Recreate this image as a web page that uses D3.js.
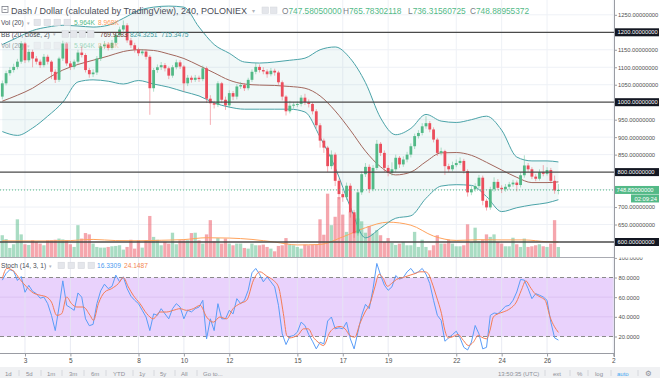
<!DOCTYPE html>
<html lang="en">
<head>
  <meta charset="UTF-8">
  <title>Dash / Dollar, 240, POLONIEX</title>
  <style>
    body { margin: 0; background: #fff; }
    svg { display: block; font-family: "Liberation Sans", Arial, sans-serif; }
  </style>
</head>
<body>
  <div id="chart"></div>
  <script src="https://d3js.org/d3.v7.min.js"></script>
  <script>
    // 4h candles: index 0 = Jan 2 00:00 UTC, last = Jan 26 12:00 UTC (live candle)
    const opens = [1016,1054,1083,1092,1101,1116,1168,1120,1144,1125,
      1116,1106,1130,1116,1087,1064,1125,1168,1111,1101,
      1116,1142,1135,1092,1080,1085,1125,1160,1165,1155,
      1170,1192,1208,1220,1177,1163,1150,1140,1145,1130,
      1040,1092,1100,1106,1097,1076,1100,1114,1102,1054,
      1070,1064,1070,1066,1097,1010,997,993,1054,1007,
      991,1026,1016,1045,1049,1040,1064,1087,1101,1092,
      1088,1080,1090,1085,1057,1016,974,990,993,995,
      1013,1000,995,974,934,890,870,817,850,775,
      737,728,761,685,625,742,794,815,751,812,
      881,855,812,798,808,841,822,836,850,874,
      903,912,931,940,922,893,855,860,817,808,
      820,826,832,803,742,751,760,784,718,699,
      751,772,755,751,758,765,770,763,791,819,
      808,787,781,800,795,806,775,747.58];
    const highs = [1062,1090,1100,1110,1124,1175,1172,1152,1150,1132,
      1122,1138,1136,1120,1094,1130,1176,1172,1118,1122,
      1150,1160,1140,1098,1094,1132,1168,1175,1172,1178,
      1200,1216,1234,1226,1184,1170,1156,1152,1150,1135,
      1098,1108,1115,1112,1102,1106,1122,1120,1106,1078,
      1076,1078,1076,1105,1102,1020,1004,1060,1058,1016,
      1034,1032,1052,1058,1055,1070,1094,1112,1108,1100,
      1094,1098,1096,1090,1062,1020,1004,1000,1002,1020,
      1024,1008,1000,980,940,896,875,862,856,782,
      745,770,768,692,750,802,826,822,820,892,
      886,862,820,828,850,846,845,858,882,910,
      920,940,960,946,928,898,870,864,824,830,
      836,842,838,808,760,768,792,790,724,758,
      785,780,762,766,772,778,776,800,848,826,
      814,794,808,820,814,812,790,765.78];
    const lows = [1008,1048,1076,1085,1094,1110,1112,1114,1100,1108,
      1098,1100,1108,1066,1055,1058,1118,1104,1092,1094,
      1110,1128,1085,1070,1072,1078,1118,1152,1148,1150,
      1164,1186,1202,1170,1155,1142,1132,1134,1122,964,
      1030,1084,1092,1088,1066,1070,1094,1095,1030,1046,
      1056,1058,1058,1060,998,935,982,986,998,978,
      984,1006,1008,1038,1032,1034,1058,1080,1085,1080,
      1070,1074,1076,1050,1005,962,968,982,986,988,
      992,985,965,925,870,855,800,808,760,722,
      715,720,670,612,618,735,786,740,745,806,
      846,800,788,790,800,812,815,828,842,866,
      896,905,924,914,885,846,848,792,800,802,
      814,820,796,730,734,744,754,705,690,692,
      744,748,740,744,750,758,745,756,784,800,
      780,774,776,788,790,768,738,736.32];
    const closes = [1054,1083,1092,1101,1116,1168,1120,1144,1125,1116,
      1106,1130,1116,1087,1064,1125,1168,1111,1101,1116,
      1142,1135,1092,1080,1085,1125,1160,1165,1155,1170,
      1192,1208,1220,1177,1163,1150,1140,1145,1130,1040,
      1092,1100,1106,1097,1076,1100,1114,1102,1054,1070,
      1064,1070,1066,1097,1010,997,993,1054,1007,991,
      1026,1016,1045,1049,1040,1064,1087,1101,1092,1088,
      1080,1090,1085,1057,1016,974,990,993,995,1013,
      1000,995,974,934,890,870,817,850,775,737,
      728,761,685,625,742,794,815,751,812,881,
      855,812,798,808,841,822,836,850,874,903,
      912,931,940,922,893,855,860,817,808,820,
      826,832,803,742,751,760,784,718,699,751,
      772,755,751,758,765,770,763,791,819,808,
      787,781,800,795,806,775,747.58,748.89];
    // volume in thousands
    const volumes = [13,10.7,5.4,7.6,22.5,13.5,7.6,7.2,10,9,
      8,7,10,10,10.3,11,10.5,10,7.6,6,
      19,11,14.3,13.5,8,6,5.6,5.6,6,6.4,
      6.6,7,4.4,6,10.3,5,10,5.6,10,24.5,
      12,10.3,7,9,8,14.5,7.6,10,10,10,
      14.3,14.5,10,8,13.5,22,9.4,11.3,8,11,
      8,7,8,8,5.4,5,8,7,7,7.4,
      6,5,3.4,6.6,7,11.3,7.4,7,6,5,
      7.4,7,7.4,7.4,22.5,13.3,37.8,19,24,35.8,
      25.3,15,27,25.3,23,21.3,14.5,18.5,14,16,
      13,9,11.3,8.4,7.2,8,9,7,7,15,
      6,10.3,6,4,7,13,8,8,10.3,8,
      6.4,6.4,7,19.5,9,17.5,9.5,10.3,13.5,12,
      13.5,9,8,6.4,6.4,11.5,7.6,6,11,6,
      6.4,7,7.6,6.4,6,8,22,5.964];
    const volMaIdx = [0,6,12,18,24,30,36,42,48,54,60,66,72,78,84,90,96,102,108,114,120,126,132,138,144,147];
    const volMa = [9.7,9.6,9.6,9.8,10.5,9.8,9.7,10.0,10.4,11.5,11.3,10.5,8.9,7.2,7.5,12.0,17.5,20.8,19,12.5,9.9,10.3,10.2,10.2,9.1,8.97];

    // Bollinger (20, close, 2) read at every 4th candle
    const bbIdx = [0,4,8,12,16,20,24,28,32,36,40,44,48,52,56,60,64,68,72,76,80,84,88,92,96,100,104,108,112,116,120,124,128,132,136,140,144,147];
    const bbUpper = [1165,1185,1205,1215,1220,1218,1215,1220,1240,1262,1272,1275,1272,1215,1165,1140,1115,1112,1115,1120,1126,1150,1158,1125,1056,955,907,925,965,946,942,950,960,920,843,832,832,829];
    const bbBasis = [1003,1020,1040,1068,1092,1108,1120,1132,1145,1150,1148,1138,1125,1105,1084,1063,1052,1049,1048,1045,1040,1018,975,920,860,815,792,800,830,855,856,848,828,806,785,770,770,772];
    const bbLower = [916,905,926,960,1000,1058,1064,1060,1052,1062,1052,1043,1030,1018,998,986,980,980,980,980,972,900,813,700,612,640,668,675,725,760,764,762,730,687,698,706,712,721];

    // Stoch (14, 3, 1)
    const stochK = [77.3,84,88,86.5,77,81,65,72,66,63.6,
      59,60,53.4,41.5,26,50,76.6,51.7,49.3,46.6,
      64.3,60,38,31,32.3,53.4,66.4,73.2,68.7,71,
      82.4,75.6,80.7,68.7,61,56.8,53.4,46.6,39.8,26,
      43,41.5,48.3,43,38,48.3,53.4,50,38,46.6,
      45,48.3,50,56.8,17.6,38,26,53.4,38,38,
      46.6,43,58.5,53.4,56.8,67,84.8,89.2,83.4,75.6,
      80.7,75.6,70.5,51.7,22.7,11.8,20,21,24.4,34.6,
      31.2,22,15.2,7.4,14.2,12.5,35.7,39.8,27.8,28.8,
      27.8,34.6,17.6,7.4,24.4,41.5,52.7,48.3,68.7,94.3,
      82.4,72.2,67,70.5,82,78.3,80,85.8,89.2,84,
      85.8,89.2,83.4,73.9,56.8,41.5,36.4,15.2,18.6,22,
      25.4,18.6,9,6.3,14.2,31.2,22.7,7.4,9,41.5,
      43.9,43.2,46.6,50.7,51.7,56.8,65.3,78,77.3,68.7,
      58.5,63.6,62,60.2,56.8,34.6,18.6,16.33];
    const stochDIdx = [0,1.2,2.9,4.7,6.4,8.2,10,11.7,13,14.4,15.7,17,18.3,19.7,21.4,23.2,24.1,25.4,27.1,28.9,
      30.7,32,33.3,34.6,36.4,38.2,39.9,41.7,43.4,45.2,47,48.7,50.5,52.3,54,55.8,57.5,59.3,61,62.8,
      64.6,66.4,68.1,69.9,71.6,73,74.3,75.2,76,76.9,78.3,79.6,80.9,82.2,83.5,84.9,
      86.6,87.9,89.3,90.6,91.9,93.2,94.5,95.9,97.2,98.5,99.6,100.7,101.8,102.9,104.2,106,107.8,109.1,110.4,111.7,
      112.6,113.5,114.8,116.1,117,117.9,119.2,120.5,121.9,123.2,124.5,125.8,127.1,128,128.9,129.8,131.1,132.4,134.2,135.9,
      137.2,138.4,139.5,140.8,142.2,143.5,144.8,147];
    const stochD = [79,89.2,86.8,78,70.5,64.3,62,60.2,55,41.5,43.2,60.2,53.4,50,50,41.5,36.4,53.4,65.3,68.7,
      73.9,80,70.5,62,53.4,43.2,38,44.9,44.9,46.6,48.3,46.6,48.3,51.7,39.8,34.6,39.8,38,48.3,53.4,
      56.8,77.3,85.8,81.4,77.3,70.5,43.2,21,18.6,19.3,22,27.8,27.8,19.3,14.2,10.8,
      24.4,28.9,30.2,27.8,21,19.3,33,44.9,53.4,70.5,83.4,79,71.1,73.9,78,80,82.4,84,85.8,85.8,
      84,75.6,60.2,43.2,26.1,18.6,20,22,15.9,10.8,14.2,21,18.6,17.6,26.1,39.8,43.2,44.9,48.3,55.1,
      67,76.6,70.5,63.6,60.2,56.8,39.8,24.15];

    // axis labels
    const dayTickIdx = [6,18,36,48,60,78,90,102,120,132,144,161.5];
    const dayLabels = ["3","5","8","10","12","15","17","19","22","24","26","2"];
    const gridPrices = [650,700,750,850,900,950,1050,1100,1150,1250];
    const priceTicks = [650,700,850,900,950,1050,1100,1150,1250];
    const levelLines = [600,800,1000,1200];
    const stochTicks = [20,40,60,80,100];

    const W = 660, H = 378, plotRight = 614;
    const mainBottom = 257, stBottom = 353;
    const up = "#53b987", down = "#eb4d5c";
    const axisFont = 5.8;

    const svg = d3.select("#chart").append("svg").attr("width", W).attr("height", H);

    const x = d3.scaleLinear().domain([0, 147]).range([2.3, 558.4]);
    const y = d3.scaleLinear().domain([600, 1200]).range([242, 32.3]);
    const yVol = d3.scaleLinear().domain([0, 40]).range([mainBottom, 190]);
    const yS = d3.scaleLinear().domain([20, 80]).range([336.5, 277.5]);

    const defs = svg.append("defs");
    defs.append("clipPath").attr("id", "clipMain").append("rect")
      .attr("x", 0).attr("y", 0).attr("width", plotRight).attr("height", mainBottom);
    defs.append("clipPath").attr("id", "clipStoch").append("rect")
      .attr("x", 0).attr("y", mainBottom).attr("width", plotRight).attr("height", stBottom - mainBottom);
    defs.append("clipPath").attr("id", "clipStAxis").append("rect")
      .attr("x", plotRight).attr("y", mainBottom + 0.5).attr("width", 50).attr("height", 100);

    const main = svg.append("g").attr("clip-path", "url(#clipMain)");
    const st = svg.append("g").attr("clip-path", "url(#clipStoch)");

    // grid
    main.selectAll(".hg").data(gridPrices).join("line")
      .attr("x1", 0).attr("x2", plotRight).attr("y1", d => y(d)).attr("y2", d => y(d))
      .attr("stroke", "#eef1f6");
    main.selectAll(".vg").data(dayTickIdx).join("line")
      .attr("x1", d => x(d)).attr("x2", d => x(d)).attr("y1", 0).attr("y2", mainBottom)
      .attr("stroke", "#eef1f6");

    // bollinger fill
    const bb = bbIdx.map((d, i) => ({ i: d, u: bbUpper[i], m: bbBasis[i], l: bbLower[i] }));
    main.append("path").datum(bb)
      .attr("fill", "rgba(74,163,168,0.08)")
      .attr("d", d3.area().curve(d3.curveMonotoneX).x(d => x(d.i)).y0(d => y(d.l)).y1(d => y(d.u)));

    const candles = closes.map((c, i) => ({ i, o: opens[i], h: highs[i], l: lows[i], c, v: volumes[i] }));

    // volume
    main.selectAll(".vol").data(candles).join("rect")
      .attr("x", d => x(d.i) - 1.7).attr("width", 3.3)
      .attr("y", d => yVol(d.v)).attr("height", d => mainBottom - yVol(d.v))
      .attr("fill", d => d.c >= d.o ? up : down).attr("fill-opacity", 0.5);
    main.append("path").datum(volMaIdx.map((d, i) => [d, volMa[i]]))
      .attr("fill", "none").attr("stroke", "#ffa35c").attr("stroke-width", 1)
      .attr("d", d3.line().curve(d3.curveMonotoneX).x(d => x(d[0])).y(d => yVol(d[1])));

    // bollinger lines
    const bbLine = key => d3.line().curve(d3.curveMonotoneX).x(d => x(d.i)).y(d => y(d[key]));
    main.append("path").datum(bb).attr("fill", "none").attr("stroke", "#4aa3a8").attr("stroke-width", 1).attr("d", bbLine("u"));
    main.append("path").datum(bb).attr("fill", "none").attr("stroke", "#4aa3a8").attr("stroke-width", 1).attr("d", bbLine("l"));
    main.append("path").datum(bb).attr("fill", "none").attr("stroke", "#a2675d").attr("stroke-width", 1).attr("d", bbLine("m"));

    // candles
    main.selectAll(".wick").data(candles).join("line")
      .attr("x1", d => x(d.i)).attr("x2", d => x(d.i))
      .attr("y1", d => y(d.h)).attr("y2", d => y(d.l))
      .attr("stroke", d => d.c >= d.o ? up : down).attr("stroke-opacity", 0.45);
    main.selectAll(".body").data(candles).join("rect")
      .attr("x", d => x(d.i) - 1.4).attr("width", 2.8)
      .attr("y", d => y(Math.max(d.o, d.c)))
      .attr("height", d => Math.max(1, Math.abs(y(d.o) - y(d.c))))
      .attr("fill", d => d.c >= d.o ? up : down);

    // horizontal levels + last price
    main.selectAll(".lvl").data(levelLines).join("line")
      .attr("x1", 0).attr("x2", plotRight).attr("y1", d => y(d)).attr("y2", d => y(d))
      .attr("stroke", "#4a4a4a").attr("stroke-width", 1.3);
    const last = closes[closes.length - 1];
    main.append("line").attr("x1", 0).attr("x2", plotRight).attr("y1", y(last)).attr("y2", y(last))
      .attr("stroke", up).attr("stroke-dasharray", "1,2");

    // stoch pane
    st.append("rect").attr("x", 0).attr("width", plotRight)
      .attr("y", yS(80)).attr("height", yS(20) - yS(80)).attr("fill", "#e9d2fc");
    st.selectAll(".sg").data([40, 60]).join("line")
      .attr("x1", 0).attr("x2", plotRight).attr("y1", d => yS(d)).attr("y2", d => yS(d))
      .attr("stroke", "#dcc2f2");
    st.selectAll(".svg").data(dayTickIdx).join("line")
      .attr("x1", d => x(d)).attr("x2", d => x(d)).attr("y1", mainBottom).attr("y2", stBottom)
      .attr("stroke", "#e4e6f0").attr("stroke-opacity", 0.8);
    st.selectAll(".sb").data([20, 80]).join("line")
      .attr("x1", 0).attr("x2", plotRight).attr("y1", d => yS(d)).attr("y2", d => yS(d))
      .attr("stroke", "#8a8a8a").attr("stroke-dasharray", "4,3");
    st.append("path").datum(stochK)
      .attr("fill", "none").attr("stroke", "#5a9df8").attr("stroke-width", 1)
      .attr("d", d3.line().x((d, i) => x(i)).y(d => yS(d)));
    st.append("path").datum(stochDIdx.map((d, i) => [d, stochD[i]]))
      .attr("fill", "none").attr("stroke", "#f47c55").attr("stroke-width", 1)
      .attr("d", d3.line().curve(d3.curveMonotoneX).x(d => x(d[0])).y(d => yS(d[1])));

    // separators / frame
    svg.append("line").attr("x1", 0).attr("x2", plotRight).attr("y1", mainBottom + 0.5).attr("y2", mainBottom + 0.5).attr("stroke", "#a9abb2");
    svg.append("line").attr("x1", 0).attr("x2", plotRight).attr("y1", stBottom + 0.5).attr("y2", stBottom + 0.5).attr("stroke", "#9a9ca3");
    svg.append("line").attr("x1", plotRight + 0.5).attr("x2", plotRight + 0.5).attr("y1", 0).attr("y2", 357).attr("stroke", "#9a9ca3");

    // price axis
    const fmtPrice = d3.format(".8f");
    const yAxis = svg.append("g").attr("transform", `translate(${plotRight},0)`)
      .call(d3.axisRight(y).tickValues(priceTicks).tickFormat(fmtPrice).tickSize(3).tickPadding(1));
    yAxis.select(".domain").remove();
    yAxis.selectAll("line").attr("stroke", "#9a9ca3");
    yAxis.selectAll("text").attr("font-size", axisFont).attr("fill", "#4f4f4f").attr("font-family", "Liberation Sans, Arial, sans-serif");

    const boxes = svg.append("g");
    boxes.selectAll("rect").data(levelLines).join("rect")
      .attr("x", plotRight + 1).attr("y", d => y(d) - 4).attr("width", 44).attr("height", 8).attr("fill", "#131722");
    boxes.selectAll("text").data(levelLines).join("text")
      .attr("x", plotRight + 3.5).attr("y", d => y(d) + 2.1).attr("font-size", axisFont).attr("fill", "#fff")
      .text(d => fmtPrice(d));
    svg.append("rect").attr("x", plotRight + 1).attr("y", y(last) - 4).attr("width", 44).attr("height", 8).attr("fill", up);
    svg.append("text").attr("x", plotRight + 2.5).attr("y", y(last) + 2.1).attr("font-size", axisFont).attr("fill", "#fff").text(last.toFixed(8));
    svg.append("rect").attr("x", plotRight + 17).attr("y", y(last) + 4.5).attr("width", 28).attr("height", 8).attr("fill", up);
    svg.append("text").attr("x", plotRight + 20.5).attr("y", y(last) + 10.6).attr("font-size", axisFont).attr("fill", "#fff").text("02:09:24");

    // stoch axis
    const sAxis = svg.append("g").attr("clip-path", "url(#clipStAxis)").append("g")
      .attr("transform", `translate(${plotRight},0)`)
      .call(d3.axisRight(yS).tickValues(stochTicks).tickFormat(d3.format(".4f")).tickSize(3).tickPadding(1.5));
    sAxis.select(".domain").remove();
    sAxis.selectAll("line").attr("stroke", "#9a9ca3");
    sAxis.selectAll("text").attr("font-size", axisFont).attr("fill", "#4f4f4f").attr("font-family", "Liberation Sans, Arial, sans-serif");

    // time axis
    const xAxis = svg.append("g").attr("transform", `translate(0,${stBottom + 0.5})`)
      .call(d3.axisBottom(x).tickValues(dayTickIdx).tickFormat((d, i) => dayLabels[i]).tickSize(3).tickPadding(2));
    xAxis.select(".domain").remove();
    xAxis.selectAll("line").attr("stroke", "#9a9ca3");
    xAxis.selectAll("text").attr("font-size", 6.5).attr("fill", "#4f4f4f").attr("font-family", "Liberation Sans, Arial, sans-serif");

    // bottom toolbar
    svg.append("rect").attr("x", 0).attr("y", 367).attr("width", W).attr("height", 11).attr("fill", "#f0f1f3");
    const toolLeft = [["1d",5],["5d",26],["1m",47],["3m",69],["6m",91],["YTD",113],["1y",139],["5y",160],["All",181],["Go to...",203]];
    const toolSep = [19,41,62,84,106,133,154,175,197,545,570,588,611,638];
    const toolRight = [["13:50:35 (UTC)",498,"#8c8f98"],["ext",553,"#8c8f98"],["%",577,"#8c8f98"],["log",595,"#8c8f98"],["auto",617,"#3ea6f2"]];
    svg.selectAll(".tl").data(toolLeft).join("text")
      .attr("x", d => d[1]).attr("y", 375.5).attr("font-size", 6).attr("fill", "#8c8f98").text(d => d[0]);
    svg.selectAll(".tr").data(toolRight).join("text")
      .attr("x", d => d[1]).attr("y", 375.5).attr("font-size", 6).attr("fill", d => d[2]).text(d => d[0]);
    svg.selectAll(".ts").data(toolSep).join("line")
      .attr("x1", d => d).attr("x2", d => d).attr("y1", 370).attr("y2", 376).attr("stroke", "#d6d8dd");
    svg.append("text").attr("x", 645).attr("y", 376).attr("font-size", 7.5).attr("fill", "#8c8f98").attr("font-family", "DejaVu Sans").text("⚙");

    // legends
    function icons(xs, yTop, op) {
      svg.append("g").attr("opacity", op).selectAll("rect").data(xs).join("rect")
        .attr("x", d => d).attr("y", yTop).attr("width", 6.5).attr("height", 6.5)
        .attr("fill", "#e4e6eb").attr("stroke", "#d3d6dc").attr("stroke-width", 0.5);
    }
    function legendText(xPos, yPos, str, color, size, op) {
      svg.append("text").attr("x", xPos).attr("y", yPos).attr("font-size", size)
        .attr("fill", color).attr("opacity", op || 1).text(str);
    }
    // title
    svg.append("rect").attr("x", 2).attr("y", 6.5).attr("width", 6).attr("height", 6)
      .attr("fill", "none").attr("stroke", "#6a6d78").attr("stroke-width", 0.7);
    svg.append("line").attr("x1", 3.5).attr("x2", 6.5).attr("y1", 9.5).attr("y2", 9.5).attr("stroke", "#6a6d78").attr("stroke-width", 0.7);
    legendText(11, 13.5, "Dash / Dollar (calculated by TradingView), 240, POLONIEX", "#4a4d57", 9);
    legendText(252, 12.5, "▾", "#b0b3ba", 6);
    icons([262, 270.5], 7, 1);
    const ohlc = [["O", "747.58050000", 282], ["H", "765.78302118", 343], ["L", "736.31560725", 408], ["C", "748.88955372", 470]];
    ohlc.forEach(([k, v, px]) => {
      const t = svg.append("text").attr("x", px).attr("y", 13.5).attr("font-size", 8.3);
      t.append("tspan").attr("fill", "#7a7d86").text(k);
      t.append("tspan").attr("fill", up).text(v);
    });

    // Vol, BB, Vol rows
    [[25, 1], [48, 0.5]].forEach(([by, op]) => {
      legendText(1, by, "Vol (20)", "#4a4d57", 6.6, op);
      legendText(27, by - 0.5, "▾", "#b0b3ba", 5, op);
      icons([34, 44, 54, 64], by - 5.8, op);
      legendText(74, by, "5.964K", up, 6.6, op);
      legendText(98, by, "8.968K", "#ff9a56", 6.6, op);
    });
    legendText(1, 36.5, "BB (20, close, 2)", "#4a4d57", 6.6);
    legendText(53, 36, "▾", "#b0b3ba", 5);
    icons([62, 70.5, 79, 87.5], 30.7, 1);
    legendText(100, 36.5, "769.9283", "#6e3f38", 6.6);
    legendText(130, 36.5, "824.3251", "#3f9aa0", 6.6);
    legendText(161, 36.5, "715.3475", "#3f9aa0", 6.6);

    // stoch legend
    legendText(1, 268, "Stoch (14, 3, 1)", "#4a4d57", 6.6);
    legendText(49, 267.5, "▾", "#b0b3ba", 5);
    icons([58, 68, 78, 88], 262.2, 1);
    legendText(97, 268, "16.3309", "#4d9bf0", 6.6);
    legendText(124, 268, "24.1487", "#f4864f", 6.6);
  </script>
</body>
</html>
